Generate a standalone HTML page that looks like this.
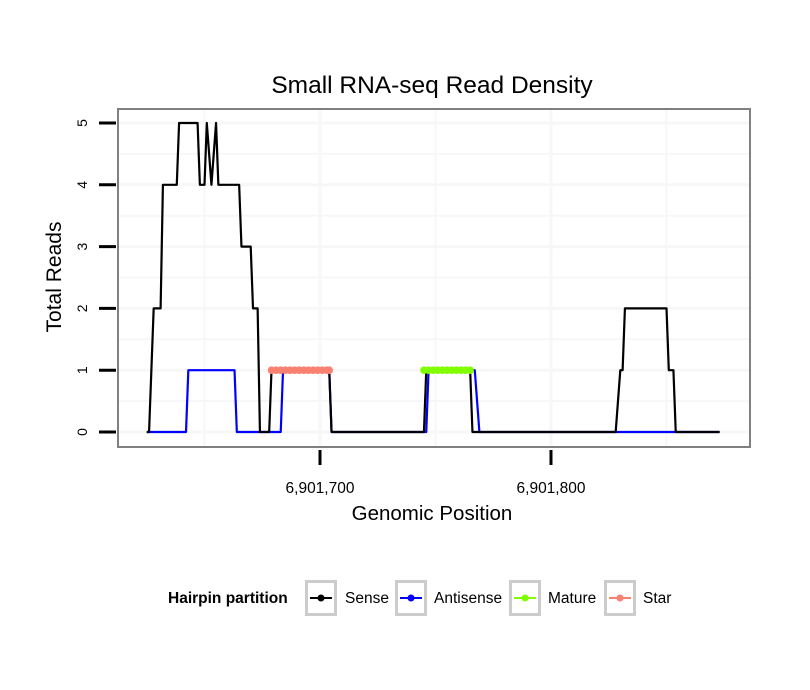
<!DOCTYPE html>
<html><head><meta charset="utf-8">
<style>
body{margin:0;background:#fff;}
svg{display:block;font-family:"Liberation Sans",Arial,sans-serif;}
</style></head>
<body>
<svg id="chart" width="810" height="690" viewBox="0 0 810 690">
<text x="432" y="93" font-size="24.5" text-anchor="middle">Small RNA-seq Read Density</text>
<g id="grid"></g>
<g id="series"></g>
<rect x="118" y="109" width="632" height="338" fill="none" stroke="#808080" stroke-width="2"/>
<g id="axes"></g>
<text x="432" y="520" font-size="20.5" text-anchor="middle">Genomic Position</text>
<text transform="translate(61,277) rotate(-90)" font-size="21" text-anchor="middle">Total Reads</text>
<g id="legend">
<text x="168" y="603" font-size="15.5" font-weight="bold">Hairpin partition</text>
</g>
</svg>
<script>
const senseX=[1625,1626,1628,1631,1632,1638,1639,1647,1648,1650,1651,1653,1655,1656,1665,1666,1670,1671,1673,1674,1678,1679,1704,1705,1745,1746,1765,1766,1828,1830,1831,1832,1850,1851,1853,1854,1873];
const senseY=[0,0,2,2,4,4,5,5,4,4,5,4,5,4,4,3,3,2,2,0,0,1,1,0,0,1,1,0,0,1,1,2,2,1,1,0,0];
const antiX=[1625,1642,1643,1663,1664,1683,1684,1704,1705,1746,1747,1767,1769,1873];
const antiY=[0,0,1,1,0,0,1,1,0,0,1,1,0,0];
const starX=[1679,1681,1683,1685,1687,1689,1691,1693,1695,1697,1699,1701,1703,1704];
const starY=[1,1,1,1,1,1,1,1,1,1,1,1,1,1];
const matureX=[1745,1747,1749,1751,1753,1755,1757,1759,1761,1763,1765];
const matureY=[1,1,1,1,1,1,1,1,1,1,1];
const xTicks=[1700,1800];
const xTickLabels=["6,901,700","6,901,800"];
const yTicks=[0,1,2,3,4,5];
const legendLabels=["Sense","Antisense","Mature","Star"];
const legendColors=["#000000","#0000ff","#7fff00","#fa8072"];

const NS="http://www.w3.org/2000/svg";
const X=v=>320+(v-1700)*2.31;
const Y=v=>432-v*61.8;
function mk(tag,attrs,parent){const e=document.createElementNS(NS,tag);for(const k in attrs)e.setAttribute(k,attrs[k]);parent.appendChild(e);return e;}
const grid=document.getElementById('grid'),series=document.getElementById('series'),axes=document.getElementById('axes'),legend=document.getElementById('legend');

for(let v=1650;v<=1850;v+=50){
  const g=mk('line',{x1:X(v),x2:X(v),y1:110,y2:446,stroke:'#f7f7f7','stroke-width':v%100===0?3:2},grid);
  
  
}
for(let v=0;v<=5;v+=0.5){
  const g=mk('line',{x1:119,x2:749,y1:Y(v),y2:Y(v),stroke:'#f7f7f7','stroke-width':v%1===0?3:2},grid);
  
  
}
function path(xs,ys,color,name){
  const d=xs.map((x,i)=>(i?'L':'M')+X(x)+','+Y(ys[i])).join('');
  const p=mk('path',{d:d,fill:'none',stroke:color,'stroke-width':2.2,'stroke-linejoin':'round'},series);
  
  
}
path(antiX,antiY,'#0000ff','antisense-line');
path(senseX,senseY,'#000000','sense-line');
function dots(xs,ys,color,name){
  path(xs,ys,color,name+'-line');
  xs.forEach((x,i)=>{
    const c=mk('circle',{cx:X(x),cy:Y(ys[i]),r:3.8,fill:color},series);
    
    
  });
}
dots(starX,starY,'#fa8072','star');
dots(matureX,matureY,'#7fff00','mature');

xTicks.forEach((v,i)=>{
  const t=mk('line',{x1:X(v),x2:X(v),y1:450,y2:465,stroke:'#000','stroke-width':3},axes);
  
  
  const l=mk('text',{x:X(v),y:493,'font-size':15.5,'text-anchor':'middle'},axes);
  l.textContent=xTickLabels[i];
  
  
});
yTicks.forEach(v=>{
  const t=mk('line',{x1:99,x2:116,y1:Y(v),y2:Y(v),stroke:'#000','stroke-width':3},axes);
  
  
  const l=mk('text',{transform:`translate(87,${Y(v)}) rotate(-90)`,'font-size':14,'text-anchor':'middle'},axes);
  l.textContent=v;
  
  
});
const boxX=[305,395,509,604],labX=[345,434,548,643];
legendLabels.forEach((lab,i)=>{
  const g=mk('g',{},legend);
  
  
  mk('rect',{x:boxX[i]+1.5,y:581.5,width:29,height:33,fill:'#fff',stroke:'#cccccc','stroke-width':3},g);
  mk('line',{x1:boxX[i]+5,x2:boxX[i]+27,y1:598,y2:598,stroke:legendColors[i],'stroke-width':2},g);
  mk('circle',{cx:boxX[i]+16,cy:598,r:3.5,fill:legendColors[i]},g);
  const t=mk('text',{x:labX[i],y:603,'font-size':15.5},g);
  t.textContent=lab;
});
</script>
</body></html>
